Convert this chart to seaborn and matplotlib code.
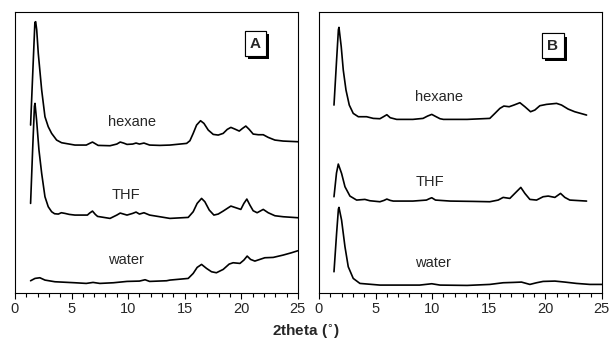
import numpy as np
import pandas as pd
import matplotlib.pyplot as plt
import matplotlib.patheffects as pe
from matplotlib.ticker import MultipleLocator
import seaborn as sns

# ── data (2theta in degrees, intensity in arbitrary units, curves already offset) ──
a_hex_x = [1.38, 1.62, 1.76, 1.83, 1.92, 2.06, 2.36, 2.65, 2.94, 3.24, 3.68, 4.12, 5.3, 6.3,
           6.6, 6.85, 7.1, 7.35, 8.4, 9.0, 9.3, 9.6, 9.9, 10.4, 10.7, 11.0, 11.4, 11.9, 12.8,
           13.69, 15.17, 15.46, 15.75, 16.05, 16.4, 16.7, 17.08, 17.52, 17.96, 18.4, 18.76,
           19.08, 19.43, 19.82, 20.11, 20.4, 20.7, 21.05, 21.5, 21.94, 22.38, 22.97, 23.7, 25.0]
a_hex_y = [504, 699, 812, 814, 790, 719, 609, 529, 499, 479, 459, 451, 444, 444,
           449, 453, 448, 443, 442, 447, 453, 450, 446, 447, 450, 447, 450, 444, 443,
           444, 449, 457, 479, 504, 517, 509, 489, 476, 474, 479, 491,
           497, 492, 486, 494, 501, 491, 477, 475, 475, 467, 459, 456, 454]

a_thf_x = [1.38, 1.56, 1.72, 1.77, 1.91, 2.12, 2.36, 2.65, 2.94, 3.24, 3.5, 3.83, 4.1, 4.42,
           4.8, 5.3, 5.7, 6.4, 6.6, 6.85, 7.1, 7.3, 8.4, 9.0, 9.3, 9.9, 10.4, 10.7, 11.0, 11.4,
           11.9, 12.8, 13.69, 15.31, 15.75, 16.1, 16.49, 16.78, 17.17, 17.58, 17.96, 18.4,
           18.76, 19.08, 19.43, 19.96, 20.23, 20.49, 20.76, 21.05, 21.4, 21.94, 22.38, 22.97,
           23.7, 25.0]
a_thf_y = [269, 429, 560, 569, 519, 429, 359, 289, 259, 244, 238, 237, 241, 239,
           236, 234, 234, 234, 240, 246, 236, 230, 224, 234, 240, 234, 239, 243, 237, 241,
           234, 229, 224, 227, 244, 269, 284, 274, 249, 234, 237, 246,
           254, 261, 257, 251, 269, 282, 264, 247, 241, 251, 241, 232,
           229, 226]

a_wat_x = [1.38, 1.77, 2.2, 2.65, 3.53, 5.3, 6.3, 6.9, 7.5, 8.7, 9.9, 11.0, 11.5, 11.9, 13.4,
           13.69, 15.31, 15.75, 16.1, 16.49, 16.93, 17.37, 17.8, 18.4, 18.93, 19.28, 19.88,
           20.23, 20.52, 20.82, 21.2, 21.64, 22.08, 22.82, 23.7, 24.44, 25.0]
a_wat_y = [37, 44, 46, 39, 34, 31, 29, 32, 29, 31, 35, 36, 40, 35, 37,
           39, 44, 59, 77, 86, 74, 64, 61, 71, 87, 91, 89,
           99, 111, 101, 96, 101, 106, 107, 114, 121, 127]

b_hex_x = [1.33, 1.56, 1.72, 1.77, 1.97, 2.15, 2.39, 2.68, 3.03, 3.48, 4.21, 4.8, 5.39, 5.7,
           6.0, 6.3, 6.87, 8.3, 9.2, 9.6, 9.97, 10.3, 10.7, 11.0, 13.1, 15.1, 15.55, 15.99,
           16.34, 16.81, 17.23, 17.76, 18.2, 18.7, 19.08, 19.52, 20.11, 21.0, 21.44, 22.02,
           22.6, 23.65]
b_hex_y = [564, 699, 790, 797, 739, 669, 609, 564, 539, 529, 529, 524, 523, 529,
           535, 526, 521, 521, 524, 531, 536, 530, 523, 521, 521, 524, 539, 554,
           561, 559, 564, 571, 559, 544, 549, 562, 566, 569, 564, 552,
           544, 534]

b_thf_x = [1.33, 1.55, 1.71, 2.0, 2.3, 2.74, 3.33, 4.06, 4.5, 5.39, 5.75, 6.0, 6.3, 6.57,
           8.3, 9.5, 9.75, 9.97, 10.3, 11.6, 13.65, 15.1, 15.84, 16.28, 16.87, 17.31, 17.84,
           18.2, 18.64, 19.23, 19.81, 20.26, 20.85, 21.35, 21.73, 22.17, 23.65]
b_thf_y = [289, 360, 387, 359, 319, 291, 279, 281, 277, 274, 278, 282, 278, 276,
           276, 279, 283, 286, 279, 276, 275, 274, 279, 287, 284, 299, 317,
           299, 281, 279, 289, 291, 287, 299, 287, 279, 276]

b_wat_x = [1.33, 1.56, 1.72, 1.77, 2.0, 2.3, 2.59, 3.03, 3.62, 5.39, 7.2, 8.9, 9.97, 10.7,
           13.1, 15.1, 16.28, 17.17, 17.9, 18.64, 19.23, 19.81, 20.85, 21.73, 22.76, 23.94, 25.0]
b_wat_y = [64, 179, 252, 257, 219, 139, 79, 44, 29, 24, 24, 24, 28, 24,
           23, 26, 31, 32, 33, 26, 31, 35, 36, 33, 29, 26, 26]

solvents = ['hexane', 'THF', 'water']
label_x = {'A': [10.3, 9.85, 9.85], 'B': [10.6, 9.8, 10.1]}
label_y = {'A': [514, 294, 99], 'B': [589, 334, 89]}

panels = {
    'A': [(a_hex_x, a_hex_y), (a_thf_x, a_thf_y), (a_wat_x, a_wat_y)],
    'B': [(b_hex_x, b_hex_y), (b_thf_x, b_thf_y), (b_wat_x, b_wat_y)],
}

# ── style ──────────────────────────────────────────────────
sns.set_style('ticks')
plt.rcParams['font.family'] = ['Liberation Sans', 'DejaVu Sans']

fig = plt.figure(figsize=(6.11, 3.44), dpi=100)
ax_a = fig.add_axes([0.0245, 0.148, 0.463, 0.817])
ax_b = fig.add_axes([0.522, 0.148, 0.463, 0.817])

for ax, name, box_pos in [(ax_a, 'A', (0.85, 0.888)), (ax_b, 'B', (0.827, 0.88))]:
    for (xs, ys), solvent, lx, ly in zip(panels[name], solvents, label_x[name], label_y[name]):
        df = pd.DataFrame({'x': xs, 'y': ys})
        sns.lineplot(data=df, x='x', y='y', ax=ax, color='black', linewidth=1.2,
                     sort=False, estimator=None, solid_joinstyle='round')
        ax.text(lx, ly, solvent, ha='center', va='center', fontsize=10.5)

    ax.set_xlim(0, 25)
    ax.set_ylim(0, 843)
    ax.set_yticks([])
    ax.set_xlabel('')
    ax.set_ylabel('')
    ax.xaxis.set_major_locator(MultipleLocator(5))
    ax.xaxis.set_minor_locator(MultipleLocator(1))
    ax.tick_params(axis='x', which='major', direction='out', length=4.3, width=0.8,
                   labelsize=10.5, pad=2, color='black')
    ax.tick_params(axis='x', which='minor', direction='out', length=2.8, width=0.8,
                   color='black')
    for s in ax.spines.values():
        s.set_visible(True)
        s.set_color('black')
        s.set_linewidth(0.8)

    t = ax.text(box_pos[0], box_pos[1], name, transform=ax.transAxes, ha='center',
                va='center', fontsize=11, fontweight='bold',
                bbox=dict(boxstyle='square,pad=0.35', fc='white', ec='black', lw=0.8))
    fig.canvas.draw()
    t.get_bbox_patch().set_path_effects([
        pe.withSimplePatchShadow(offset=(2.3, -2.3), shadow_rgbFace='black', alpha=1),
        pe.Normal()])

fig.text(0.5, 0.035, r'2theta ($^{\circ}$)', ha='center', va='center',
         fontsize=11, fontweight='bold')

plt.savefig('out.png', dpi=100)
